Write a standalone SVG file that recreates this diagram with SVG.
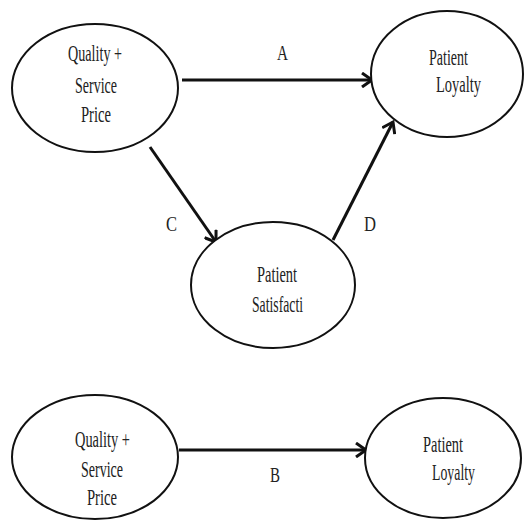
<svg xmlns="http://www.w3.org/2000/svg" width="524" height="520" viewBox="0 0 524 520">
<style>
.node ellipse{fill:#fff;stroke:#111;stroke-width:2}
text{font-family:"Liberation Serif","Times New Roman",serif;font-size:23px;fill:#222}
.lbl{font-size:21px}
.edge{stroke:#111;stroke-width:3;fill:none}
</style>
<defs>
<marker id="ah" viewBox="0 0 14 16" refX="11" refY="8" markerWidth="14" markerHeight="16" markerUnits="userSpaceOnUse" orient="auto">
<path d="M1,1 L11,8 L1,15" fill="none" stroke="#111" stroke-width="3"/>
</marker>
</defs>
<rect width="524" height="520" fill="#fff"/>
<g id="connectors">
<line class="edge" x1="182" y1="80" x2="372" y2="80" marker-end="url(#ah)"/>
<line class="edge" x1="150" y1="147" x2="216" y2="242" stroke-width="2.5" marker-end="url(#ah)"/>
<line class="edge" x1="333" y1="240" x2="393" y2="122" stroke-width="2.5" marker-end="url(#ah)"/>
<line class="edge" x1="179" y1="450" x2="366" y2="450" marker-end="url(#ah)"/>
<text class="lbl" x="277" y="60" textLength="11" lengthAdjust="spacingAndGlyphs">A</text>
<text class="lbl" x="166" y="231" textLength="11" lengthAdjust="spacingAndGlyphs">C</text>
<text class="lbl" x="364" y="231" textLength="12" lengthAdjust="spacingAndGlyphs">D</text>
<text class="lbl" x="270" y="482" textLength="10" lengthAdjust="spacingAndGlyphs">B</text>
</g>
<g id="n1" class="node">
<ellipse cx="95" cy="88" rx="83" ry="64"/>
<text x="68" y="61" textLength="54" lengthAdjust="spacingAndGlyphs">Quality +</text>
<text x="75" y="93" textLength="42" lengthAdjust="spacingAndGlyphs">Service</text>
<text x="81" y="122" textLength="30" lengthAdjust="spacingAndGlyphs">Price</text>
</g>
<g id="n2" class="node">
<ellipse cx="447" cy="74" rx="76" ry="63"/>
<text x="429" y="65" textLength="39" lengthAdjust="spacingAndGlyphs">Patient</text>
<text x="436" y="92" textLength="45" lengthAdjust="spacingAndGlyphs">Loyalty</text>
</g>
<g id="n3" class="node">
<ellipse cx="273" cy="285" rx="82" ry="63"/>
<text x="257" y="282" textLength="40" lengthAdjust="spacingAndGlyphs">Patient</text>
<text x="252" y="312" textLength="51" lengthAdjust="spacingAndGlyphs">Satisfacti</text>
</g>
<g id="n4" class="node">
<ellipse cx="95" cy="457" rx="83" ry="62"/>
<text x="75" y="447" textLength="55" lengthAdjust="spacingAndGlyphs">Quality +</text>
<text x="81" y="477" textLength="42" lengthAdjust="spacingAndGlyphs">Service</text>
<text x="87" y="505" textLength="30" lengthAdjust="spacingAndGlyphs">Price</text>
</g>
<g id="n5" class="node">
<ellipse cx="443" cy="458" rx="78" ry="60"/>
<text x="423" y="452" textLength="40" lengthAdjust="spacingAndGlyphs">Patient</text>
<text x="432" y="480" textLength="43" lengthAdjust="spacingAndGlyphs">Loyalty</text>
</g>
</svg>
